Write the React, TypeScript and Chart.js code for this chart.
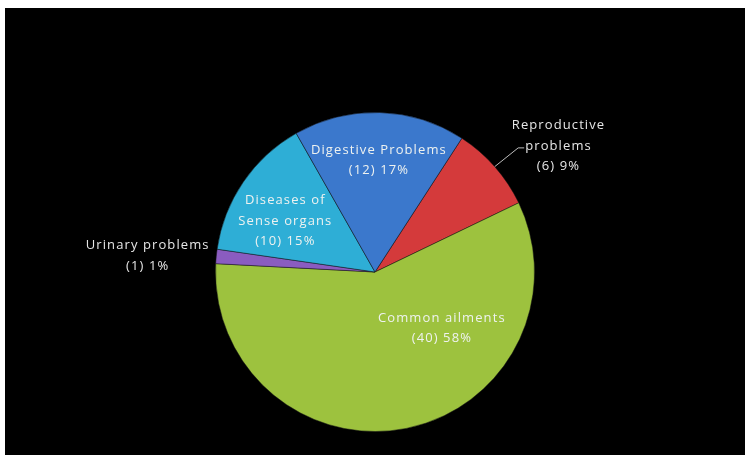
import React, { useEffect, useRef } from "react";
import { Chart, registerables } from "chart.js";

Chart.register(...registerables);

const categories = [
  "Reproductive problems",
  "Common ailments",
  "Urinary problems",
  "Diseases of Sense organs",
  "Digestive Problems",
];
const values = [6, 40, 1, 10, 12];
const labelLines = [
  ["Reproductive", "problems", "(6) 9%"],
  ["Common ailments", "(40) 58%"],
  ["Urinary problems", "(1) 1%"],
  ["Diseases of", "Sense organs", "(10) 15%"],
  ["Digestive Problems", "(12) 17%"],
];
const sliceColors = ["#d43a3b", "#9dc23e", "#8a5cc0", "#2eaed6", "#3b78cc"];
// label placement: [angle in degrees (screen), distance as fraction of radius]
const labelPlacement: [number, number][] = [
  [-34.5, 1.396],
  [40.1, 0.548],
  [-175.9, 1.429],
  [-150.5, 0.646],
  [-88, 0.7],
];

const labelPlugin = {
  id: "sliceLabels",
  afterDatasetsDraw(chart: any) {
    const ctx = chart.ctx;
    const meta = chart.getDatasetMeta(0);
    ctx.save();
    ctx.font = "13px 'Open Sans'";
    (ctx as any).letterSpacing = "1.1px";
    ctx.textAlign = "center";
    ctx.textBaseline = "middle";
    meta.data.forEach((arc: any, i: number) => {
      const { x, y, outerRadius, startAngle, endAngle } = arc.getProps(
        ["x", "y", "outerRadius", "startAngle", "endAngle"],
        true
      );
      const [deg, frac] = labelPlacement[i];
      const a = (deg * Math.PI) / 180;
      const cx = x + Math.cos(a) * outerRadius * frac;
      const cy = y + Math.sin(a) * outerRadius * frac;
      const lines = labelLines[i];
      const lh = 20.5;
      const outside = frac > 1;
      ctx.fillStyle = outside ? "#e6e6e6" : "#eef2f0";
      lines.forEach((t, j) => {
        ctx.fillText(t, cx, cy + (j - (lines.length - 1) / 2) * lh);
      });
      if (i === 0) {
        const mid = (startAngle + endAngle) / 2;
        const sx = x + Math.cos(mid) * outerRadius;
        const sy = y + Math.sin(mid) * outerRadius;
        const tw = ctx.measureText(lines[1]).width;
        const ex = cx - tw / 2 - 1;
        const ey = cy + 2;
        ctx.strokeStyle = "#bdbdbd";
        ctx.lineWidth = 1;
        ctx.beginPath();
        ctx.moveTo(sx, sy);
        ctx.lineTo(ex - 6, ey);
        ctx.lineTo(ex, ey);
        ctx.stroke();
      }
    });
    ctx.restore();
  },
};

export default function App() {
  const ref = useRef<HTMLCanvasElement>(null);
  useEffect(() => {
    if (!ref.current) return;
    const chart = new Chart(ref.current, {
      type: "pie",
      data: {
        labels: categories,
        datasets: [
          {
            data: values,
            backgroundColor: sliceColors,
            borderColor: "rgba(20,20,20,0.5)",
            borderWidth: 1,
          },
        ],
      },
      options: {
        responsive: false,
        animation: false,
        rotation: 33,
        layout: { padding: { top: 104, bottom: 23, left: 210, right: 210 } },
        plugins: {
          legend: { display: false },
          tooltip: { enabled: false },
        },
      },
      plugins: [labelPlugin],
    });
    return () => chart.destroy();
  }, []);
  return (
    <div
      style={{
        position: "absolute",
        left: 5,
        top: 8,
        width: 740,
        height: 447,
        background: "#000",
      }}
    >
      <canvas ref={ref} width={740} height={447} />
    </div>
  );
}
